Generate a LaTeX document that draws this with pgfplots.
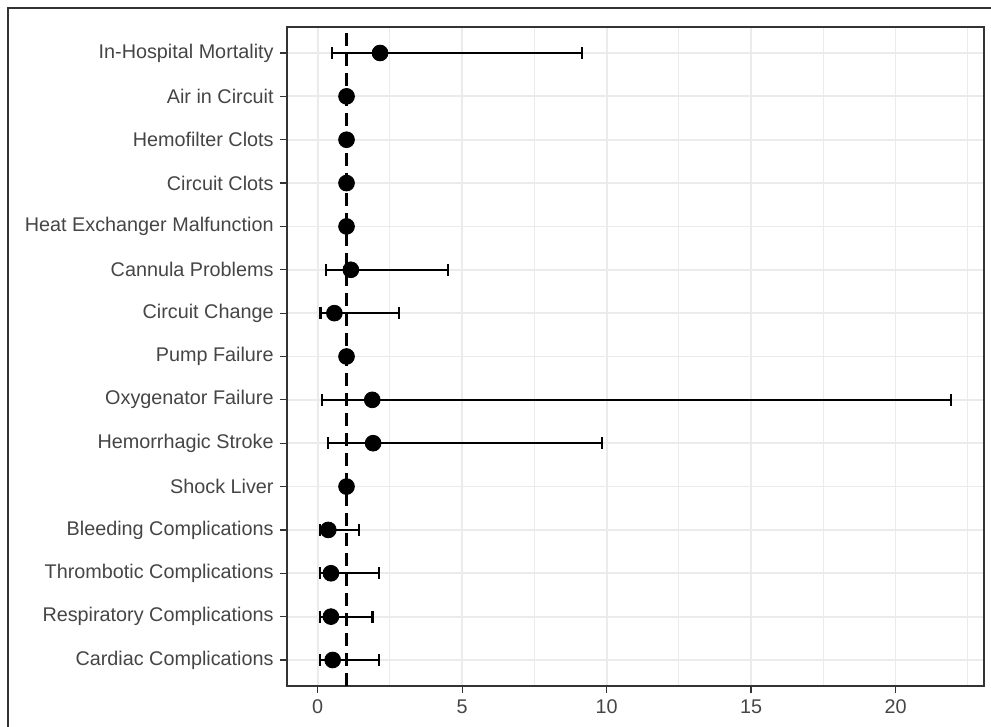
\documentclass[border=0pt]{standalone}
\usepackage{pgfplots}
\pgfplotsset{compat=1.18}
\usepackage{pgfplotstable}
\usepackage{fontspec}
\setmainfont{Liberation Sans}
\definecolor{gridc}{HTML}{EBEBEB}
\definecolor{gtwenty}{HTML}{333333}
\definecolor{gthirty}{HTML}{454545}
\pgfplotstableread{
y  x     ep     em
15 2.16  7.00   1.65
14 1.00  0      0
13 1.00  0      0
12 1.00  0      0
11 1.00  0      0
10 1.15  3.37   0.86
9  0.58  2.23   0.48
8  1.00  0      0
7  1.89  20.03  1.73
6  1.92  7.93   1.55
5  1.00  0      0
4  0.37  1.07   0.29
3  0.46  1.66   0.38
2  0.46  1.44   0.38
1  0.52  1.60   0.44
}\forest
\begin{document}
\begin{tikzpicture}
\useasboundingbox (0,0) rectangle (495.5pt,363.5pt);
\draw[gtwenty, line width=0.7pt] (4pt,-5pt) -- (4pt,359.5pt) -- (505pt,359.5pt);
\begin{axis}[
  at={(143.5pt,20.5pt)}, anchor=south west,
  scale only axis, width=348.5pt, height=329.5pt,
  xmin=-1.06, xmax=23.06, ymin=0.4, ymax=15.6,
  xtick={0,5,10,15,20}, xticklabels={0,5,10,15,20},
  minor xtick={2.5,7.5,12.5,17.5,22.5},
  ytick={1,...,15},
  yticklabels={Cardiac Complications,Respiratory Complications,Thrombotic Complications,Bleeding Complications,Shock Liver,Hemorrhagic Stroke,Oxygenator Failure,Pump Failure,Circuit Change,Cannula Problems,Heat Exchanger Malfunction,Circuit Clots,Hemofilter Clots,Air in Circuit,In-Hospital Mortality},
  tick align=outside, major tick length=3.5pt,
  minor tick length=0pt,
  tick style={gtwenty, line width=0.6pt},
  xtick pos=bottom, ytick pos=left,
  grid=both,
  major grid style={gridc, line width=0.9pt},
  minor grid style={gridc, line width=0.5pt},
  axis line style={gtwenty, line width=0.6pt},
  ticklabel style={font=\fontsize{9.9}{11}\selectfont, text=gthirty},
  yticklabel style={inner sep=3pt},
  xticklabel style={inner sep=3pt},
  clip=false,
]
\addplot[black, line width=1.05pt, dash pattern=on 6.5pt off 3.5pt] coordinates {(1,0.4) (1,15.6)};
\addplot[black, only marks, mark=*, mark size=3.95pt,
  error bars/.cd, x dir=both, x explicit,
  error bar style={line width=1.05pt, black},
  error mark options={rotate=90, line width=1.05pt, mark size=3pt, black}]
  table[x=x, y=y, x error plus=ep, x error minus=em] {\forest};
\end{axis}
\end{tikzpicture}
\end{document}
